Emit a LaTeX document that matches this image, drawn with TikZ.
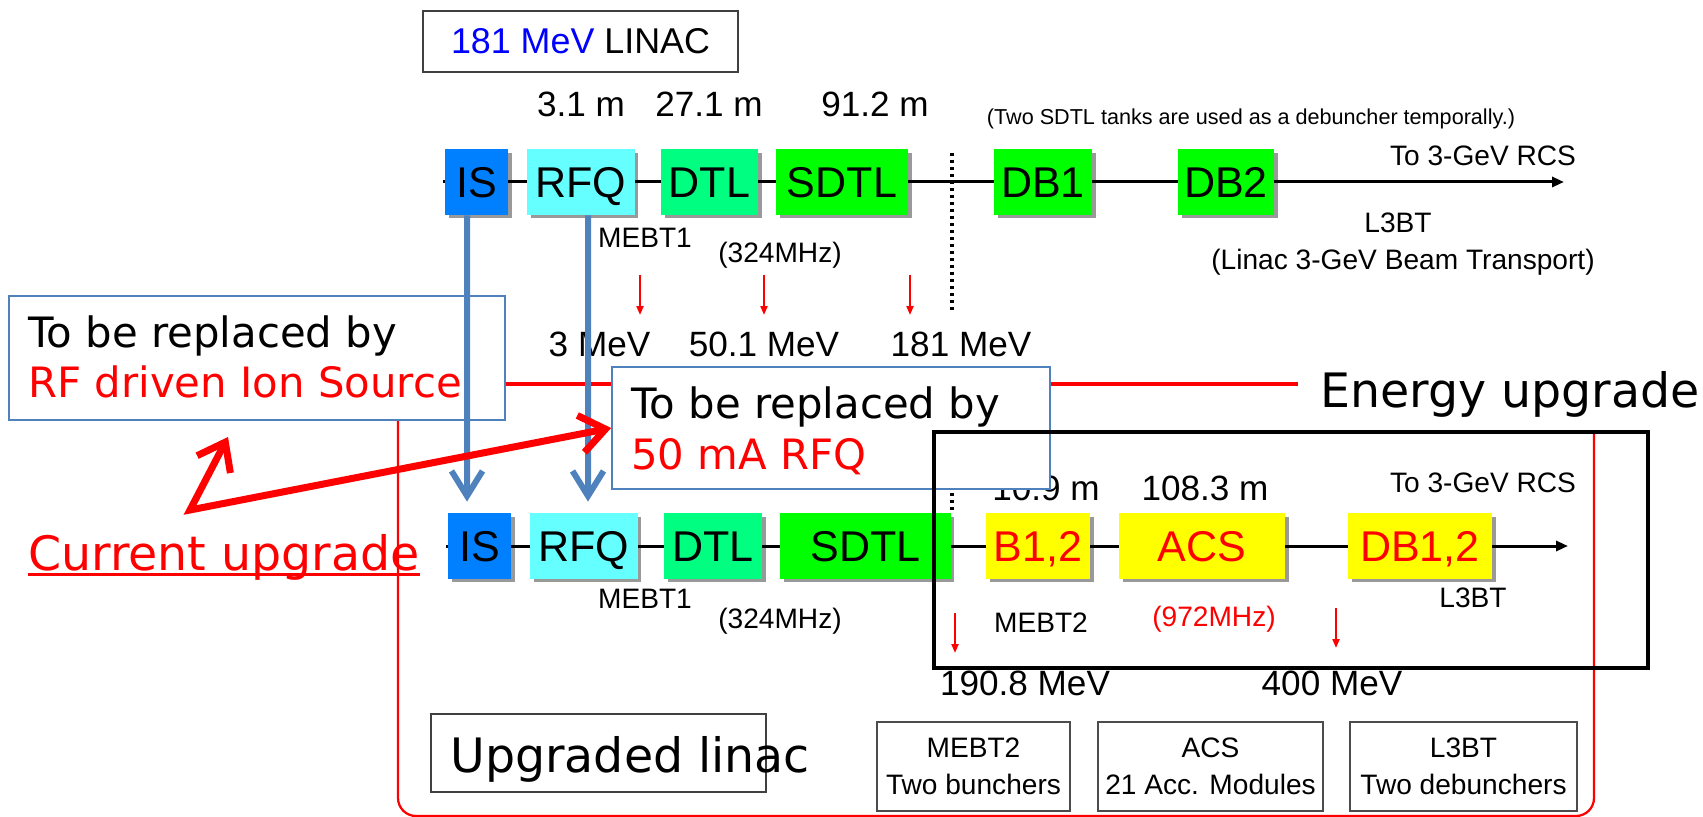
\documentclass[tikz,border=0pt]{standalone}
\usepackage{fontspec}
\setmainfont{Liberation Sans}
\newfontfamily\dvs{DejaVu Sans}
\usetikzlibrary{arrows.meta,shadows}
\definecolor{isblue}{HTML}{0080FF}
\definecolor{rfqcyan}{HTML}{66FFFF}
\definecolor{dtlgreen}{HTML}{00FF80}
\definecolor{sdtlgreen}{HTML}{00FF00}
\definecolor{acsyellow}{HTML}{FFFF00}
\definecolor{steel}{HTML}{4F81BD}
\newcommand\fNum{\fontsize{20}{24}\selectfont}
\newcommand\fSm{\fontsize{16}{21}\selectfont}
\newcommand\fTiny{\fontsize{12.3}{15}\selectfont}
\newcommand\fComp{\fontsize{24.5}{28}\selectfont}
\newcommand\fBig{\dvs\fontsize{23.8}{28}\selectfont}
\newcommand\fHuge{\dvs\fontsize{27}{32}\selectfont}
\begin{document}
\begin{tikzpicture}[x=0.02cm,y=-0.02cm,
  comp/.style={inner sep=0pt, minimum height=1.32cm, font=\fComp, text height=17.5pt, text depth=0pt,
    drop shadow={shadow xshift=0.07cm, shadow yshift=-0.07cm, opacity=0.4, fill=black}},
  lbl/.style={inner sep=0pt, anchor=base},
  beam/.style={line width=0.06cm, -{Triangle[length=0.24cm,width=0.2cm]}},
  dots/.style={line width=0.075cm, dash pattern=on 0.07cm off 0.07cm},
  rbox/.style={draw=steel, fill=white, line width=0.035cm, inner sep=0pt},
  redline/.style={draw=red, line width=0.065cm},
  redthin/.style={draw=red, line width=0.045cm},
  bluearrow/.style={draw=steel, line width=0.12cm, -{Straight Barb[length=0.5cm,width=0.62cm]}},
  redbig/.style={draw=red, line width=0.14cm, {Straight Barb[length=0.5cm,width=0.75cm]}-{Straight Barb[length=0.5cm,width=0.75cm]}},
  smallred/.style={draw=red, line width=0.04cm, -{Triangle[length=0.18cm,width=0.14cm]}},
  gbox/.style={draw=black!70, line width=0.03cm, fill=white, align=center, font=\fSm, inner sep=0pt}
]
\useasboundingbox (0,0) rectangle (1703,817);

% red bracket of the upgraded linac
\coordinate (ry) at (0,384);
\coordinate (bl) at (398,816);
\coordinate (br) at (1594,816);
\coordinate (brt) at (1594,430);
\coordinate (blt) at (398,420);
\draw[redthin, rounded corners=0.36cm] (blt) -- (bl) -- (br) -- (brt);

% ---------- top row ----------
\coordinate (end1) at (1564,182);
\coordinate (start1) at (443,182);
\draw[beam] (start1) -- (end1);
\draw[dots] (952,153) -- (952,312);
\node[comp, fill=isblue, minimum width=1.26cm] (IS1) at (476.5,182) {IS};
\node[comp, fill=rfqcyan, minimum width=2.16cm] (RFQ1) at (581,182) {RFQ};
\node[comp, fill=dtlgreen, minimum width=1.94cm] (DTL1) at (709.5,182) {DTL};
\node[comp, fill=sdtlgreen, minimum width=2.64cm] (SDTL1) at (842,182) {SDTL};
\node[comp, fill=sdtlgreen, minimum width=1.96cm] (DB1) at (1043,182) {DB1};
\node[comp, fill=sdtlgreen, minimum width=1.92cm] (DB2) at (1226,182) {DB2};

\node[draw=black!75, line width=0.03cm, minimum width=6.3cm, minimum height=1.22cm, inner sep=0pt,
  font=\fontsize{20.4}{24}\selectfont] (title) at (580.5,41.5) {\textcolor{blue}{181 MeV} LINAC};

\node[lbl, font=\fNum] (len1) at (581,117) {3.1 m};
\node[lbl, font=\fNum] (len2) at (709,117) {27.1 m};
\node[lbl, font=\fNum] (len3) at (875,117) {91.2 m};
\node[lbl, font=\fTiny] (note) at (1251,125) {(Two SDTL tanks are used as a debuncher temporally.)};
\node[lbl, font=\fSm] (rcs1) at (1483,166) {To 3-GeV RCS};
\node[lbl, font=\fSm] (l3bt1) at (1398,233) {L3BT};
\node[lbl, font=\fSm] (l3btlong) at (1403,270) {(Linac 3-GeV Beam Transport)};
\node[lbl, font=\fSm] (mebt1a) at (645,248) {MEBT1};
\node[lbl, font=\fSm] (f1) at (780,263) {(324MHz)};
\node[lbl, font=\fNum] (e1) at (599.5,357) {3 MeV};
\node[lbl, font=\fNum] (e2) at (764,357) {50.1 MeV};
\node[lbl, font=\fNum] (e3) at (961,357) {181 MeV};

\draw[smallred] (640,275) -- (640,315);
\draw[smallred] (764,275) -- (764,315);
\draw[smallred] (910,275) -- (910,315);

% ---------- lower row ----------
\coordinate (end2) at (1568,546);
\coordinate (start2) at (446,546);
\draw[beam] (start2) -- (end2);
\draw[dots] (952,465) -- (952,512);
\node[comp, fill=isblue, minimum width=1.26cm] (IS2) at (479.5,546) {IS};
\node[comp, fill=rfqcyan, minimum width=2.16cm] (RFQ2) at (584,546) {RFQ};
\node[comp, fill=dtlgreen, minimum width=1.96cm] (DTL2) at (713,546) {DTL};
\node[comp, fill=sdtlgreen, minimum width=3.42cm] (SDTL2) at (865.5,546) {SDTL};
\node[comp, fill=acsyellow, text=red, minimum width=2.08cm] (B12) at (1038,546) {B1,2};
\node[comp, fill=acsyellow, text=red, minimum width=3.32cm] (ACS) at (1202,546) {ACS};
\node[comp, fill=acsyellow, text=red, minimum width=2.88cm] (DB12) at (1420,546) {DB1,2};

\node[lbl, font=\fNum] (len4) at (1046,500) {10.9 m};
\node[lbl, font=\fNum] (len5) at (1205,500) {108.3 m};
\node[lbl, font=\fSm] (rcs2) at (1483,492) {To 3-GeV RCS};
\node[lbl, font=\fSm] (mebt1b) at (645,608) {MEBT1};
\node[lbl, font=\fSm] (f2) at (780,628) {(324MHz)};
\node[lbl, font=\fSm] (l3bt2) at (1473,607) {L3BT};
\node[lbl, font=\fSm] (mebt2) at (1041,632) {MEBT2};
\node[lbl, font=\fSm, text=red] (f3) at (1214,626) {(972MHz)};
\node[lbl, font=\fNum] (e4) at (1025,695) {190.8 MeV};
\node[lbl, font=\fNum] (e5) at (1332,695) {400 MeV};

\draw[smallred] (955,613) -- (955,653);
\draw[smallred] (1336,608) -- (1336,648);

% ---------- replacement boxes ----------
\node[rbox, minimum width=9.92cm, minimum height=2.48cm] (lbox) at (257,358) {};
\node[lbl, anchor=base west, font=\fBig] (lt1) at (28,348) {To be replaced by};
\node[lbl, anchor=base west, font=\fBig, text=red] (lt2) at (28,398) {RF driven Ion Source};

\node[rbox, minimum width=8.76cm, minimum height=2.44cm] (mbox) at (831,428) {};
\node[lbl, anchor=base west, font=\fBig] (mt1) at (631,418) {To be replaced by};
\node[lbl, anchor=base west, font=\fBig, text=red] (mt2) at (631,469) {50 mA RFQ};

\coordinate (redend) at (1298,384);
\draw[redline] (lbox.east |- ry) -- (mbox.west |- ry);
\draw[redline] (mbox.east |- ry) -- (redend);

% energy upgrade frame
\node[draw=black, line width=0.08cm, minimum width=14.28cm, minimum height=4.72cm, inner sep=0pt] (ebox) at (1291,550) {};

% blue arrows
\draw[bluearrow] ([xshift=-0.19cm]IS1.south) -- ([xshift=-0.25cm,yshift=0.22cm]IS2.north);
\draw[bluearrow] ([xshift=0.14cm]RFQ1.south) -- ([xshift=0.08cm,yshift=0.22cm]RFQ2.north);

% current upgrade arrow
\coordinate (cva) at (228,437);
\coordinate (cv) at (190,510);
\draw[redbig] (cva) -- (cv) -- (mbox.west);

% bottom boxes
\node[gbox, minimum width=3.86cm, minimum height=1.78cm] (bx1) at (973.5,766.5) {MEBT2\\Two bunchers};
\node[gbox, minimum width=4.5cm, minimum height=1.78cm] (bx2) at (1210.5,766.5) {ACS\\21 Acc. Modules};
\node[gbox, minimum width=4.54cm, minimum height=1.78cm] (bx3) at (1463.5,766.5) {L3BT\\Two debunchers};

\node[draw=black!75, line width=0.03cm, minimum width=6.7cm, minimum height=1.56cm, inner sep=0pt] (ubox) at (598.5,753) {};
\node[lbl, anchor=base west, font=\fHuge] (utext) at (450,772) {Upgraded linac};

% big labels
\node[lbl, anchor=base west, font=\fHuge] (eu) at (1320,407) {Energy upgrade};
\node[lbl, anchor=base west, font=\fHuge, text=red] (cu) at (28,570) {Current upgrade};
\draw[red, line width=0.06cm] ([yshift=-0.08cm]cu.base west) -- ([yshift=-0.08cm]cu.base east);
\end{tikzpicture}
\end{document}
